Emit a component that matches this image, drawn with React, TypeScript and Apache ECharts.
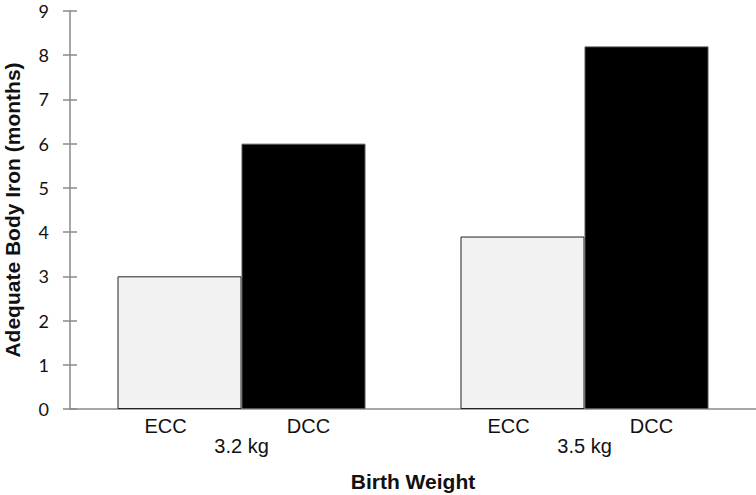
import React, { useEffect, useRef } from "react";
import * as echarts from "echarts";

const groups = ["3.2 kg", "3.5 kg"];
const seriesNames = ["ECC", "DCC"];
const eccValues = [3.0, 3.9];
const dccValues = [6.0, 8.2];
const yTicks = { min: 0, max: 9, interval: 1 };

export default function App() {
  const ref = useRef<HTMLDivElement>(null);
  useEffect(() => {
    if (!ref.current) return;
    const chart = echarts.init(ref.current, null, { renderer: "svg" });
    const axisGray = "#8a8a8a";
    const labelFont = "Liberation Sans, Arial, sans-serif";
    const barLabel = (offX: number) => ({
      show: true,
      position: "bottom",
      distance: 7,
      offset: [offX, 0],
      formatter: (p: any) => p.seriesName,
      color: "#111",
      fontSize: 20,
      fontFamily: labelFont,
    });
    chart.setOption({
      animation: false,
      backgroundColor: "#ffffff",
      grid: { left: 70, right: 0, top: 11, bottom: 86, containLabel: false, outerBoundsMode: "none" },
      xAxis: {
        type: "category",
        data: groups,
        axisLine: { show: true, lineStyle: { color: axisGray, width: 1.5 } },
        axisTick: { show: false },
        axisLabel: {
          margin: 27,
          color: "#111",
          fontSize: 20,
          fontFamily: labelFont,
        },
        name: "Birth Weight",
        nameLocation: "middle",
        nameGap: 62,
        nameTextStyle: {
          fontSize: 21,
          fontWeight: "bold",
          color: "#111",
          fontFamily: labelFont,
        },
      },
      yAxis: [
        {
          type: "value",
          min: yTicks.min,
          max: yTicks.max,
          interval: yTicks.interval,
          axisLine: { show: true, lineStyle: { color: axisGray, width: 1.5 } },
          axisTick: { show: true, length: 7, lineStyle: { color: axisGray, width: 1.5 } },
          splitLine: { show: false },
          axisLabel: {
            margin: 21,
            color: "#111",
            fontSize: 18,
            fontFamily: "Lato, Open Sans, sans-serif",
          },
          name: "Adequate Body Iron (months)",
          nameLocation: "middle",
          nameGap: 47,
          nameTextStyle: {
            fontSize: 21,
            fontWeight: "bold",
            color: "#111",
            fontFamily: labelFont,
          },
        },
        {
          type: "value",
          position: "left",
          min: yTicks.min,
          max: yTicks.max,
          interval: yTicks.interval,
          axisLine: { show: false },
          axisTick: { show: true, inside: true, length: 7, lineStyle: { color: axisGray, width: 1.5 } },
          splitLine: { show: false },
          axisLabel: { show: false },
        },
      ],
      series: [
        {
          name: seriesNames[0],
          type: "bar",
          data: eccValues,
          barGap: "0%",
          barCategoryGap: "27.7%",
          itemStyle: { color: "#f2f2f2", borderColor: "#222", borderWidth: 1 },
          label: barLabel(-14),
        },
        {
          name: seriesNames[1],
          type: "bar",
          data: dccValues,
          barGap: "0%",
          barCategoryGap: "27.7%",
          itemStyle: { color: "#000000", borderColor: "#555", borderWidth: 1 },
          label: barLabel(5),
        },
      ],
    });
    return () => chart.dispose();
  }, []);
  return (
    <div
      ref={ref}
      style={{ position: "fixed", left: 0, top: 0, width: 756, height: 495, background: "#fff" }}
    />
  );
}
